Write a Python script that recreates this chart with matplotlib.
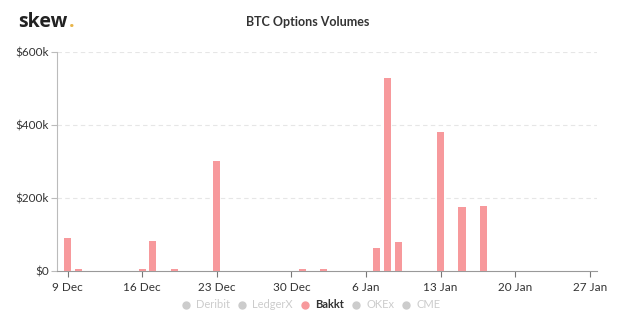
import datetime as dt
import matplotlib
matplotlib.use("Agg")
from matplotlib import pyplot as plt
from matplotlib import dates as mdates
from matplotlib.lines import Line2D
from matplotlib.ticker import FuncFormatter

plt.rcParams['font.family'] = ['Lato', 'DejaVu Sans']

# Bakkt daily options volume (USD thousands)
days = ['2019-12-09', '2019-12-10', '2019-12-16', '2019-12-17', '2019-12-19',
        '2019-12-23', '2019-12-31', '2020-01-02', '2020-01-07', '2020-01-08',
        '2020-01-09', '2020-01-13', '2020-01-15', '2020-01-17']
volume_k = [90, 6, 6, 81, 6, 302, 6, 6, 63, 528, 78, 381, 176, 177]

exchanges = ['Deribit', 'LedgerX', 'Bakkt', 'OKEx', 'CME']
shown = ['Bakkt']

bar_color = '#f7999c'
grey = '#cccccc'

dates = [dt.datetime.strptime(d, '%Y-%m-%d') for d in days]

fig = plt.figure(figsize=(6.44, 3.27), dpi=100)
ax = fig.add_axes([57 / 644, 1 - 270.7 / 327, 540 / 644, 218.7 / 327])

ax.bar(dates, [v * 1000 for v in volume_k], width=0.66, color=bar_color, zorder=3)

ax.set_xlim(dt.datetime(2019, 12, 8), dt.datetime(2020, 1, 27, 16))
ax.set_ylim(0, 600000)
ax.set_yticks([0, 200000, 400000, 600000])
ax.yaxis.set_major_formatter(FuncFormatter(lambda v, p: '$0' if v == 0 else '$%dk' % (v / 1000)))
ax.set_xticks([dt.datetime(2019, 12, 9) + dt.timedelta(days=7 * i) for i in range(8)])
ax.xaxis.set_major_formatter(FuncFormatter(
    lambda v, p: '%d %s' % (mdates.num2date(v).day, mdates.num2date(v).strftime('%b'))))

for y in [200000, 400000, 600000]:
    ax.axhline(y, color='#e6e6e6', lw=0.8, ls=(0, (4, 3)), zorder=1)

for s in ['top', 'right']:
    ax.spines[s].set_visible(False)
ax.spines['left'].set_color('#bbbbbb')
ax.spines['bottom'].set_color('#999999')
ax.tick_params(axis='x', colors='#777777', labelcolor='#333333', labelsize=8.5, length=4, pad=4)
ax.tick_params(axis='y', colors='#bbbbbb', labelcolor='#333333', labelsize=8.5, length=4, pad=2)

fig.text(308 / 644, 1 - 22 / 327, 'BTC Options Volumes', ha='center', va='center',
         fontsize=9, fontweight='bold', color='#333333')
t = fig.text(18 / 644, 1 - 22 / 327, 'skew', ha='left', va='center', fontsize=14,
             fontweight='bold', color='#222222', family=['Open Sans', 'DejaVu Sans'])
fig.canvas.draw()
bb = t.get_window_extent()
fig.text((bb.x1 + 1) / fig.bbox.width, 1 - 22 / 327, '.', ha='left', va='center', fontsize=14,
         fontweight='bold', color='#e8b54a', family=['Open Sans', 'DejaVu Sans'])

handles = [Line2D([], [], marker='o', ls='', markersize=5,
                  color=bar_color if e in shown else grey) for e in exchanges]
leg = fig.legend(handles, exchanges, loc='center', bbox_to_anchor=(310 / 644, 1 - 305 / 327),
                 ncol=5, frameon=False, fontsize=8, handletextpad=0.3, columnspacing=0.5,
                 handlelength=1.2)
for txt, e in zip(leg.get_texts(), exchanges):
    if e in shown:
        txt.set_color('#333333')
        txt.set_fontweight('bold')
    else:
        txt.set_color(grey)

fig.savefig('out.png', dpi=100)
